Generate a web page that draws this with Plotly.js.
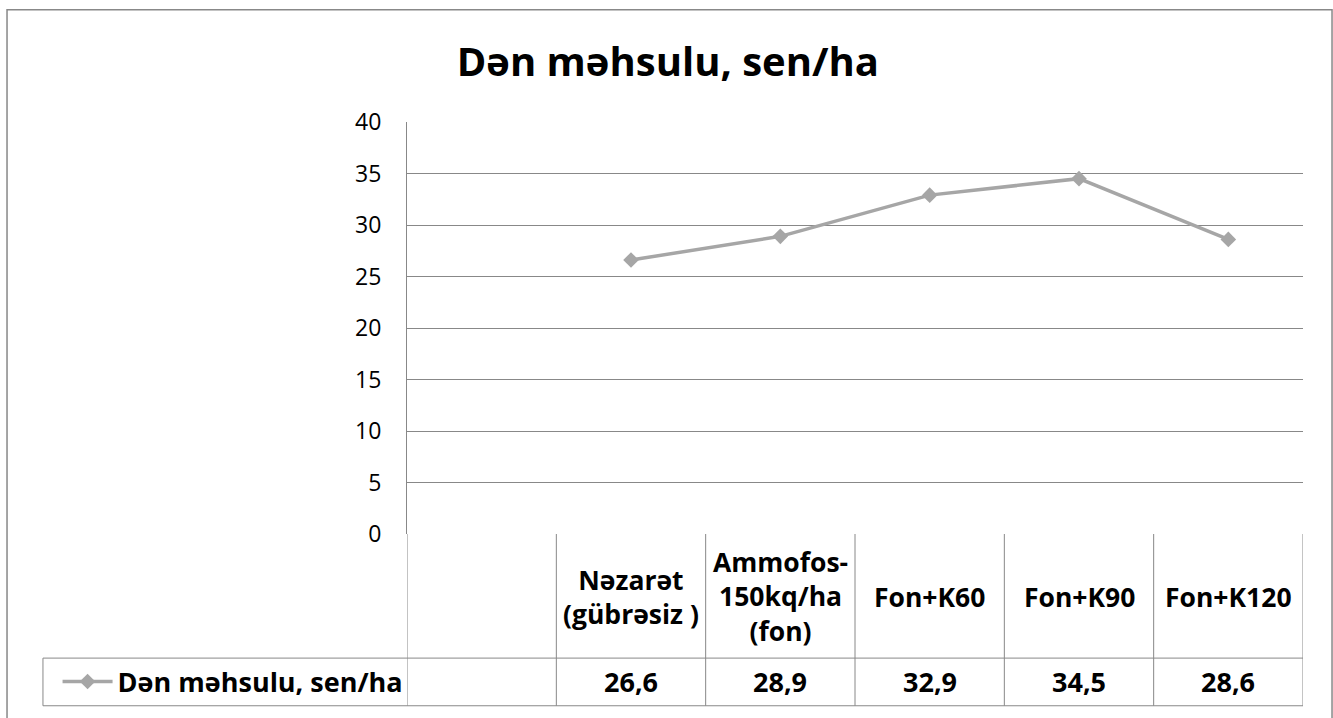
<!DOCTYPE html>
<html>
<head>
<meta charset="utf-8">
<script src="https://cdn.plot.ly/plotly-3.0.1.min.js"></script>
<style>
  html, body { margin: 0; padding: 0; background: #fff; }
  #chart { width: 1333px; height: 718px; }
</style>
</head>
<body>
<div id="chart"></div>
<script>
// --- Chart data ---
const categories = ['', 'Nəzarət<br>(gübrəsiz )', 'Ammofos-<br>150kq/ha<br>(fon)', 'Fon+K60', 'Fon+K90', 'Fon+K120'];
const yields = [null, 26.6, 28.9, 32.9, 34.5, 28.6];
const seriesName = 'Dən məhsulu, sen/ha';
const yTicks = [0, 5, 10, 15, 20, 25, 30, 35, 40];

const positions = categories.map((c, i) => i);
const gray = '#888888';
const fontFam = '"Open Sans", "Noto Sans", sans-serif';

// table rows, in paper units below the plot area
const rowTop = -0.3012;
const rowBottom = -0.4169;

const trace = {
    x: positions.slice(1),
    y: yields.slice(1),
    type: 'scatter',
    mode: 'lines+markers',
    name: '<b>' + seriesName + '</b>',
    line: { color: '#a6a6a6', width: 3.5 },
    marker: { symbol: 'diamond', size: 12, color: '#a6a6a6' },
    hoverinfo: 'x+y'
};

// --- Table lines ---
const shapes = [];
const line = { color: gray, width: 1 };
positions.forEach(i => {
    shapes.push({ type: 'line', xref: 'x', yref: 'paper', x0: i - 0.5, x1: i - 0.5, y0: 0, y1: rowBottom, line });
});
shapes.push({ type: 'line', xref: 'x', yref: 'paper', x0: 5.5, x1: 5.5, y0: 0, y1: rowBottom, line });
shapes.push({ type: 'line', xref: 'paper', yref: 'paper', x0: -0.4063, x1: 1, y0: rowTop, y1: rowTop, line });
shapes.push({ type: 'line', xref: 'paper', yref: 'paper', x0: -0.4063, x1: 1, y0: rowBottom, y1: rowBottom, line });
shapes.push({ type: 'line', xref: 'paper', yref: 'paper', x0: -0.4063, x1: -0.4063, y0: rowTop, y1: rowBottom, line });
// outer chart border
shapes.push({ type: 'rect', xref: 'paper', yref: 'paper', x0: -0.4464, x1: 1.0324, y0: 1.2723, y1: -0.5, line: { color: gray, width: 1.5 } });

// --- Table text ---
const annotations = [];
categories.forEach((c, i) => {
    if (!c) return;
    annotations.push({
        xref: 'x', yref: 'paper', x: i, y: -0.1518,
        text: '<b>' + c + '</b>', showarrow: false,
        xanchor: 'center', yanchor: 'middle',
        font: { family: fontFam, size: 26.5, color: '#000' }
    });
    annotations.push({
        xref: 'x', yref: 'paper', x: i, y: -0.359,
        text: '<b>' + yields[i].toFixed(1).replace('.', ',') + '</b>', showarrow: false,
        xanchor: 'center', yanchor: 'middle',
        font: { family: fontFam, size: 27, color: '#000' }
    });
});

const layout = {
    width: 1333,
    height: 718,
    margin: { l: 407, r: 30, t: 122, b: 181 },
    paper_bgcolor: '#fff',
    plot_bgcolor: '#fff',
    font: { family: fontFam, color: '#000' },
    title: {
        text: '<b>' + seriesName + '</b>',
        font: { family: fontFam, size: 40, color: '#000' },
        x: 0.501, xanchor: 'center',
        y: 0.9136, yanchor: 'middle'
    },
    xaxis: {
        type: 'linear',
        range: [-0.5, 5.5],
        showticklabels: false,
        showgrid: false,
        zeroline: false,
        showline: false,
        fixedrange: true
    },
    yaxis: {
        range: [0, 40],
        tickvals: yTicks,
        showgrid: true,
        gridcolor: gray,
        gridwidth: 1,
        zeroline: false,
        showline: true,
        linecolor: gray,
        linewidth: 1,
        ticks: '',
        ticklabelstandoff: 20,
        tickfont: { family: fontFam, size: 23, color: '#000' },
        fixedrange: true
    },
    showlegend: true,
    legend: {
        x: -0.39, xanchor: 'left',
        y: -0.359, yanchor: 'middle',
        itemwidth: 50,
        bgcolor: 'rgba(0,0,0,0)',
        font: { family: fontFam, size: 27, color: '#000' }
    },
    shapes,
    annotations
};

Plotly.newPlot('chart', [trace], layout, { displayModeBar: false, staticPlot: true });
</script>
</body>
</html>
